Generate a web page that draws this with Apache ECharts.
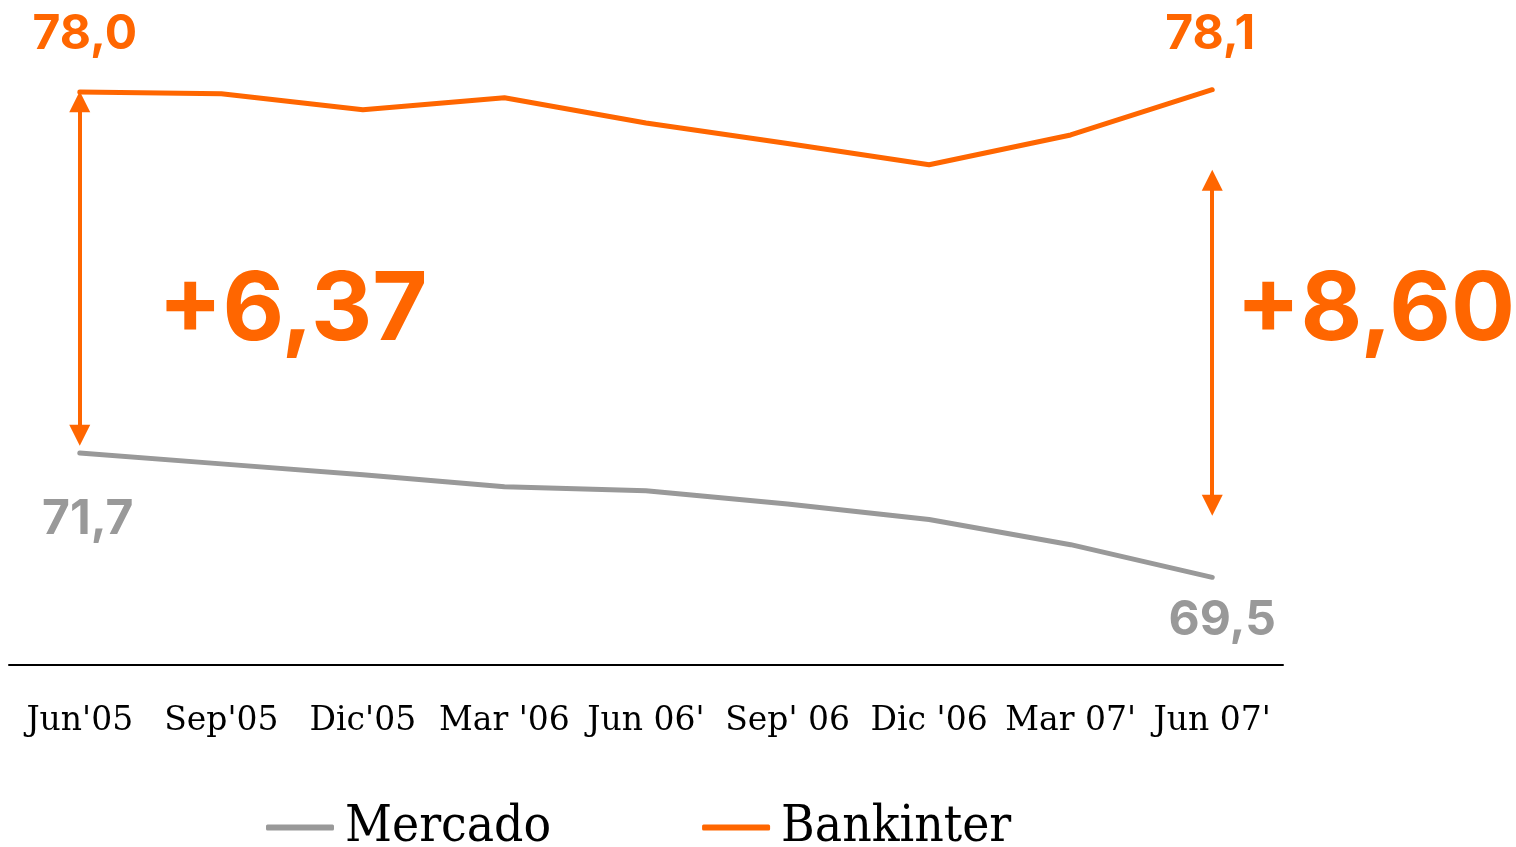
<!DOCTYPE html>
<html>
<head>
<meta charset="utf-8">
<title>Mercado vs Bankinter</title>
<script src="https://cdn.jsdelivr.net/npm/echarts@6/dist/echarts.min.js"></script>
<style>
html,body{margin:0;padding:0;background:#fff;}
#main{width:1516px;height:847px;}
</style>
</head>
<body>
<div id="main"></div>
<script>
// datos
var categorias = ["Jun'05", "Sep'05", "Dic'05", "Mar '06", "Jun 06'", "Sep' 06", "Dic '06", "Mar 07'", "Jun 07'"];
var mercado = [71.7, 71.51, 71.32, 71.11, 71.04, 70.81, 70.54, 70.10, 69.53];
var bankinter = [78.0, 77.97, 77.69, 77.9, 77.46, 77.1, 76.73, 77.25, 78.04];
// etiquetas de los extremos (inicio, fin)
var etiqMercado = ["71,7", "69,5"];
var etiqBankinter = ["78,0", "78,1"];
var difInicio = "+6,37";
var difFin = "+8,60";
// flechas de diferencia: [categoria, valor arriba, valor abajo]
var flechaInicio = [0, 77.83, 72.01];
var flechaFin = [8, 76.46, 70.79];

var naranja = "#ff6600";
var gris = "#999999";

// solo primer y ultimo punto llevan etiqueta
function buildData(arr, etiq, color, offIni, offFin){
	var out = [];
	for(var i=0;i<arr.length;i++){
		var item = {value: arr[i]};
		if(i==0 || i==arr.length-1){
			item.label = {
				show: true,
				position: "inside",
				offset: i==0 ? offIni : offFin,
				formatter: i==0 ? etiq[0] : etiq[1],
				color: color,
				fontFamily: "Inter",
				fontWeight: "bold",
				fontSize: 48
			};
		}
		out.push(item);
	}
	return out;
}

function flecha(f){
	return [{coord: [f[0], f[1]]}, {coord: [f[0], f[2]]}];
}

var myChart = echarts.init(document.getElementById('main'));

var option = {
	animation: false,
	grid: {
		left: 9,
		right: 233,
		top: 34.7,
		bottom: 182
	},
	legend: {
		left: 261,
		top: 797,
		itemWidth: 68,
		itemHeight: 6,
		itemGap: 151,
		icon: "roundRect",
		textStyle: {
			fontFamily: "DejaVu Serif Condensed",
			fontSize: 51,
			color: "#000",
			padding: [0, 0, 0, 6]
		},
		data: ["Mercado", "Bankinter"]
	},
	xAxis: {
		type: "category",
		data: categorias,
		boundaryGap: true,
		axisLine: {lineStyle: {color: "#000", width: 2}},
		axisTick: {show: false},
		axisLabel: {
			margin: 40,
			fontFamily: "DejaVu Serif",
			fontSize: 33,
			color: "#000",
			interval: 0
		}
	},
	yAxis: {
		type: "value",
		min: 68,
		max: 79,
		show: false
	},
	graphic: [
		{
			type: "text",
			left: 158,
			top: 264,
			style: {
				text: difInicio,
				fill: naranja,
				font: "bold 95px Inter"
			}
		},
		{
			type: "text",
			left: 1236,
			top: 264,
			style: {
				text: difFin,
				fill: naranja,
				font: "bold 95px Inter"
			}
		}
	],
	series: [
		{
			name: "Mercado",
			type: "line",
			data: buildData(mercado, etiqMercado, gris, [8, 67], [10, 43]),
			symbol: "circle",
			symbolSize: 0.1,
			itemStyle: {color: gris},
			lineStyle: {color: gris, width: 5, cap: "round"},
			z: 2
		},
		{
			name: "Bankinter",
			type: "line",
			data: buildData(bankinter, etiqBankinter, naranja, [5, -57], [-2, -55]),
			symbol: "circle",
			symbolSize: 0.1,
			itemStyle: {color: naranja},
			lineStyle: {color: naranja, width: 5, cap: "round"},
			z: 3,
			markLine: {
				silent: true,
				symbol: ["triangle", "triangle"],
				symbolSize: 21,
				lineStyle: {color: naranja, width: 4, type: "solid"},
				label: {show: false},
				data: [flecha(flechaInicio), flecha(flechaFin)]
			}
		}
	]
};
myChart.setOption(option);
</script>
</body>
</html>
